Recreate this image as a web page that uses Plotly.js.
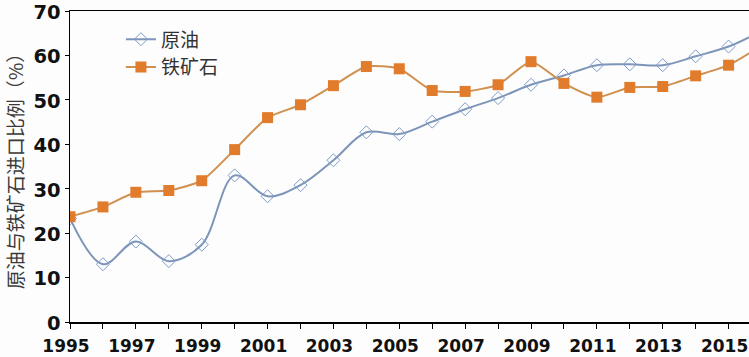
<!DOCTYPE html>
<html>
<head>
<meta charset="utf-8">
<script src="https://cdn.plot.ly/plotly-3.0.1.min.js"></script>
<style>html,body{margin:0;padding:0;background:#fdfdfd;}#chart{width:749px;height:357px;}</style>
</head>
<body>
<div id="chart"></div>
<script>
const years = [1995,1996,1997,1998,1999,2000,2001,2002,2003,2004,2005,2006,2007,2008,2009,2010,2011,2012,2013,2014,2015,2016];
const crudeOil = [23.3,13.0,18.1,13.7,17.4,33.0,28.3,30.8,36.4,42.7,42.3,45.1,47.9,50.4,53.4,55.5,57.8,58.0,57.8,59.8,62.0,65.5];
const ironOre = [23.7,25.9,29.2,29.6,31.8,38.8,46.0,48.9,53.2,57.5,57.0,52.1,51.9,53.4,58.6,53.7,50.6,52.8,53.0,55.4,57.8,62.2];
const xTickVals = [1995,1997,1999,2001,2003,2005,2007,2009,2011,2013,2015];
const xTickText = ['1995','1997','1999','2001','2003','2005','2007','2009','2011','2013','2015'];
const yTickVals = [0,10,20,30,40,50,60,70];
const yTickText = ['0','10','20','30','40','50','60','70'];

const traces = [
  {
    x: years, y: crudeOil, name: '原油', type: 'scatter', mode: 'lines+markers',
    line: {color: '#7d95b8', width: 2, shape: 'spline', smoothing: 1},
    marker: {symbol: 'diamond-open', size: 10, color: '#7d9bcb', line: {width: 1}}
  },
  {
    x: years, y: ironOre, name: '铁矿石', type: 'scatter', mode: 'lines+markers',
    line: {color: '#cf9050', width: 2, shape: 'spline', smoothing: 0.6},
    marker: {symbol: 'square', size: 11, color: '#e07c2c'}
  }
];

const layout = {
  width: 749, height: 357,
  margin: {l: 70, r: 0, t: 11, b: 35, pad: 0},
  paper_bgcolor: '#fdfdfd', plot_bgcolor: '#fdfdfd',
  showlegend: true,
  legend: {
    x: 0.075, y: 0.97, xanchor: 'left', yanchor: 'top',
    bgcolor: 'rgba(0,0,0,0)',
    font: {family: 'Noto Sans CJK SC', size: 19, color: '#333333'},
    tracegroupgap: 0
  },
  xaxis: {
    range: [1995, 2015.62], showgrid: false, zeroline: false,
    showline: true, linecolor: '#000', linewidth: 1.5, mirror: true,
    tickmode: 'array', tickvals: xTickVals, ticktext: xTickText,
    ticks: 'outside', ticklen: 5, tickcolor: '#000',
    ticklabelshift: -4, ticklabelstandoff: 3,
    minor: {dtick: 1, ticks: 'outside', ticklen: 5, tickcolor: '#000'},
    tickfont: {family: 'DejaVu Sans', size: 17, color: '#111', weight: 'bold'}
  },
  yaxis: {
    range: [0, 70], showgrid: false, zeroline: false,
    showline: true, linecolor: '#000', linewidth: 1.5,
    tickmode: 'array', tickvals: yTickVals, ticktext: yTickText,
    ticks: 'outside', ticklen: 4, tickcolor: '#000',
    ticklabelshift: 1, ticklabeloverflow: 'allow',
    tickfont: {family: 'DejaVu Sans', size: 19.5, color: '#111', weight: 'bold'},
    title: {text: '原油与铁矿石进口比例（%）', standoff: 5,
            font: {family: 'Noto Sans CJK SC', size: 19, color: '#3a3a3a'}}
  }
};

Plotly.newPlot('chart', traces, layout, {displayModeBar: false, staticPlot: true});
</script>
</body>
</html>
